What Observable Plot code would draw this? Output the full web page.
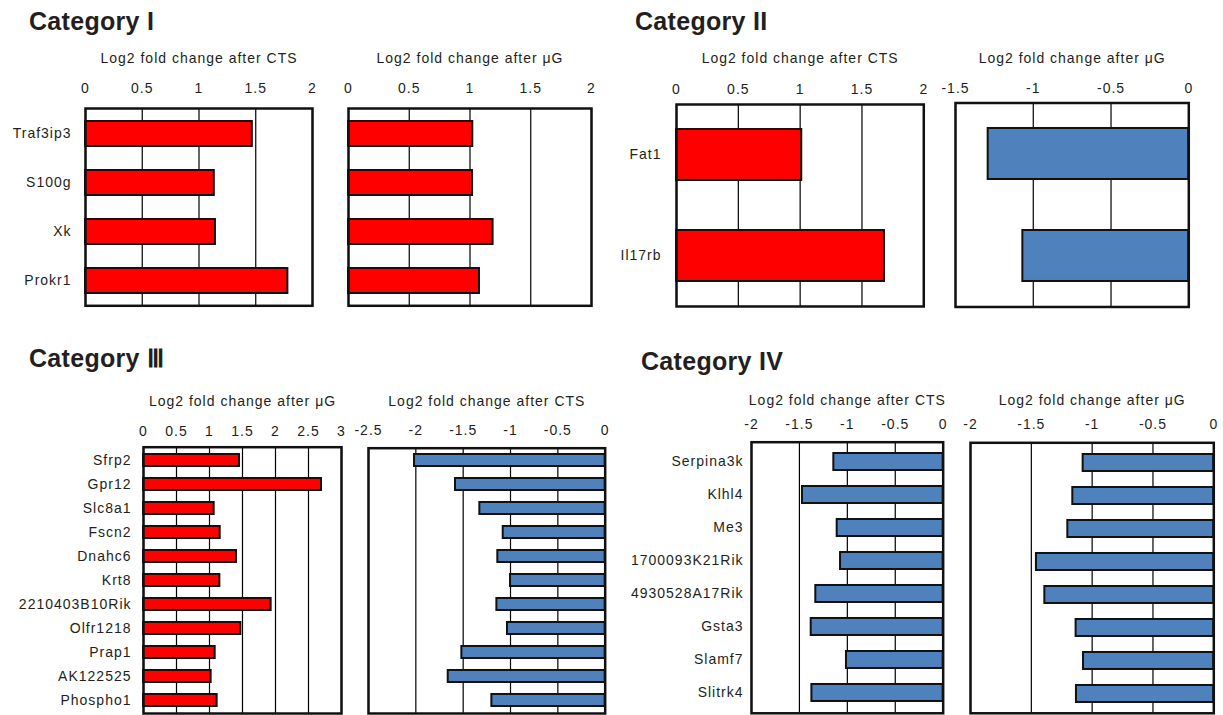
<!DOCTYPE html>
<html><head><meta charset="utf-8">
<script src="https://cdn.jsdelivr.net/npm/d3@7"></script>
<script src="https://cdn.jsdelivr.net/npm/@observablehq/plot@0.6"></script>
<style>
body{margin:0;background:#fff;}
#root{position:relative;width:1223px;height:715px;overflow:hidden;background:#fff;font-family:"Liberation Sans",Arial,sans-serif;}
.title{position:absolute;font-weight:bold;font-size:25px;letter-spacing:0.3px;color:#231f20;line-height:1;white-space:nowrap;}
</style></head><body><div id="root"></div>
<script>
// ---- data ----
const cat1Genes = ["Traf3ip3", "S100g", "Xk", "Prokr1"];
const cat1CTS = [1.47, 1.135, 1.145, 1.783];
const cat1UG = [1.023, 1.021, 1.19, 1.078];

const cat2Genes = ["Fat1", "Il17rb"];
const cat2CTS = [1.013, 1.682];
const cat2UG = [-1.29, -1.067];

const cat3Genes = ["Sfrp2", "Gpr12", "Slc8a1", "Fscn2", "Dnahc6", "Krt8", "2210403B10Rik", "Olfr1218", "Prap1", "AK122525", "Phospho1"];
const cat3UG = [1.455, 2.697, 1.071, 1.162, 1.409, 1.157, 1.934, 1.475, 1.086, 1.025, 1.116];
const cat3CTS = [-2.014, -1.581, -1.324, -1.077, -1.134, -1.0, -1.144, -1.032, -1.514, -1.658, -1.197];

const cat4Genes = ["Serpina3k", "Klhl4", "Me3", "1700093K21Rik", "4930528A17Rik", "Gsta3", "Slamf7", "Slitrk4"];
const cat4CTS = [-1.141, -1.468, -1.106, -1.071, -1.329, -1.377, -1.009, -1.37];
const cat4UG = [-1.074, -1.159, -1.2, -1.458, -1.389, -1.132, -1.071, -1.129];

const ticks0to2 = [0, 0.5, 1, 1.5, 2];
const ticks0to3 = [0, 0.5, 1, 1.5, 2, 2.5, 3];
const ticksM15to0 = [-1.5, -1, -0.5, 0];
const ticksM25to0 = [-2.5, -2, -1.5, -1, -0.5, 0];
const ticksM2to0 = [-2, -1.5, -1, -0.5, 0];

const labelCTS = "Log2 fold change after CTS";
const labelUG = "Log2 fold change after μG";
const titles = ["Category I", "Category II", "Category Ⅲ", "Category IV"];

const RED = "#ff0000", BLUE = "#4f81bd";
const root = document.getElementById("root");

function title(text, left, baseline) {
  const d = document.createElement("div");
  d.className = "title";
  d.textContent = text;
  d.style.left = left + "px";
  d.style.top = (baseline - 21.1) + "px";
  root.appendChild(d);
}

function panel(o) {
  const ml = o.showY ? 150 : 20, mr = 22;
  const mt = o.fy0 - o.top, mb = o.mb ?? 4;
  const data = o.genes.map((g, i) => ({gene: g, value: o.values[i]}));
  const p = Plot.plot({
    width: (o.fx1 - o.fx0) + ml + mr,
    height: (o.fy1 - o.fy0) + mt + mb,
    marginLeft: ml, marginRight: mr, marginTop: mt, marginBottom: mb,
    x: {domain: o.domain},
    y: {domain: o.genes, paddingInner: 0.5, paddingOuter: 0.25, axis: o.showY ? undefined : null},
    style: {fontFamily: '"Liberation Sans", Arial, sans-serif', fontSize: "14px", letterSpacing: "1px", color: "#231f20", background: "transparent", overflow: "visible"},
    marks: [
      Plot.gridX(o.ticks, {stroke: "#000", strokeOpacity: 1, strokeWidth: 1.2}),
      Plot.barX(data, {x: "value", y: "gene", fill: o.fill, stroke: "#111", strokeWidth: 2}),
      Plot.frame({stroke: "#111", strokeWidth: 2.5}),
      Plot.axisX(o.ticks, {anchor: "top", tickSize: 0, tickPadding: o.fy0 - o.tickY - 5, tickFormat: d => String(d), label: null}),
      o.showY ? Plot.axisY({anchor: "left", tickSize: 0, tickPadding: o.yGap, label: null}) : null,
      Plot.text([o.label], {frameAnchor: "top", dy: o.labelY - o.fy0, text: d => d, lineAnchor: "middle", fill: "#231f20"})
    ]
  });
  p.style.position = "absolute";
  p.style.left = (o.fx0 - ml) + "px";
  p.style.top = o.top + "px";
  root.appendChild(p);
}

title(titles[0], 29, 30);
title(titles[1], 635, 30);
title(titles[2], 29, 367);
title(titles[3], 641, 370);

// Category I
panel({genes: cat1Genes, values: cat1CTS, domain: [0, 2], ticks: ticks0to2, label: labelCTS, fill: RED,
  fx0: 85.3, fx1: 312.3, fy0: 108, fy1: 305.3, top: 40, labelY: 58, tickY: 88, showY: true, yGap: 14});
panel({genes: cat1Genes, values: cat1UG, domain: [0, 2], ticks: ticks0to2, label: labelUG, fill: RED,
  fx0: 348.3, fx1: 591.3, fy0: 108, fy1: 305.3, top: 40, labelY: 58, tickY: 88, showY: false});
// Category II
panel({genes: cat2Genes, values: cat2CTS, domain: [0, 2], ticks: ticks0to2, label: labelCTS, fill: RED,
  fx0: 675.7, fx1: 923, fy0: 104, fy1: 306, top: 40, labelY: 58.3, tickY: 88.3, showY: true, yGap: 15});
panel({genes: cat2Genes, values: cat2UG, domain: [-1.5, 0], ticks: ticksM15to0, label: labelUG, fill: BLUE,
  fx0: 955, fx1: 1188.3, fy0: 102.5, fy1: 306.5, top: 40, labelY: 58.3, tickY: 87.5, showY: false});
// Category III
panel({genes: cat3Genes, values: cat3UG, domain: [0, 3], ticks: ticks0to3, label: labelUG, fill: RED,
  fx0: 142.7, fx1: 340.7, fy0: 446.7, fy1: 713, top: 385, mb: 4, labelY: 401.2, tickY: 430, showY: true, yGap: 12});
panel({genes: cat3Genes, values: cat3CTS, domain: [-2.5, 0], ticks: ticksM25to0, label: labelCTS, fill: BLUE,
  fx0: 368.3, fx1: 605, fy0: 447.7, fy1: 713, top: 385, mb: 4, labelY: 400.8, tickY: 430, showY: false});
// Category IV
panel({genes: cat4Genes, values: cat4CTS, domain: [-2, 0], ticks: ticksM2to0, label: labelCTS, fill: BLUE,
  fx0: 751, fx1: 942.7, fy0: 441.7, fy1: 712.8, top: 385, mb: 4, labelY: 400, tickY: 423.3, showY: true, yGap: 8});
panel({genes: cat4Genes, values: cat4UG, domain: [-2, 0], ticks: ticksM2to0, label: labelUG, fill: BLUE,
  fx0: 970, fx1: 1213.3, fy0: 442.3, fy1: 712.8, top: 385, mb: 4, labelY: 400, tickY: 423.3, showY: false});
</script></body></html>
